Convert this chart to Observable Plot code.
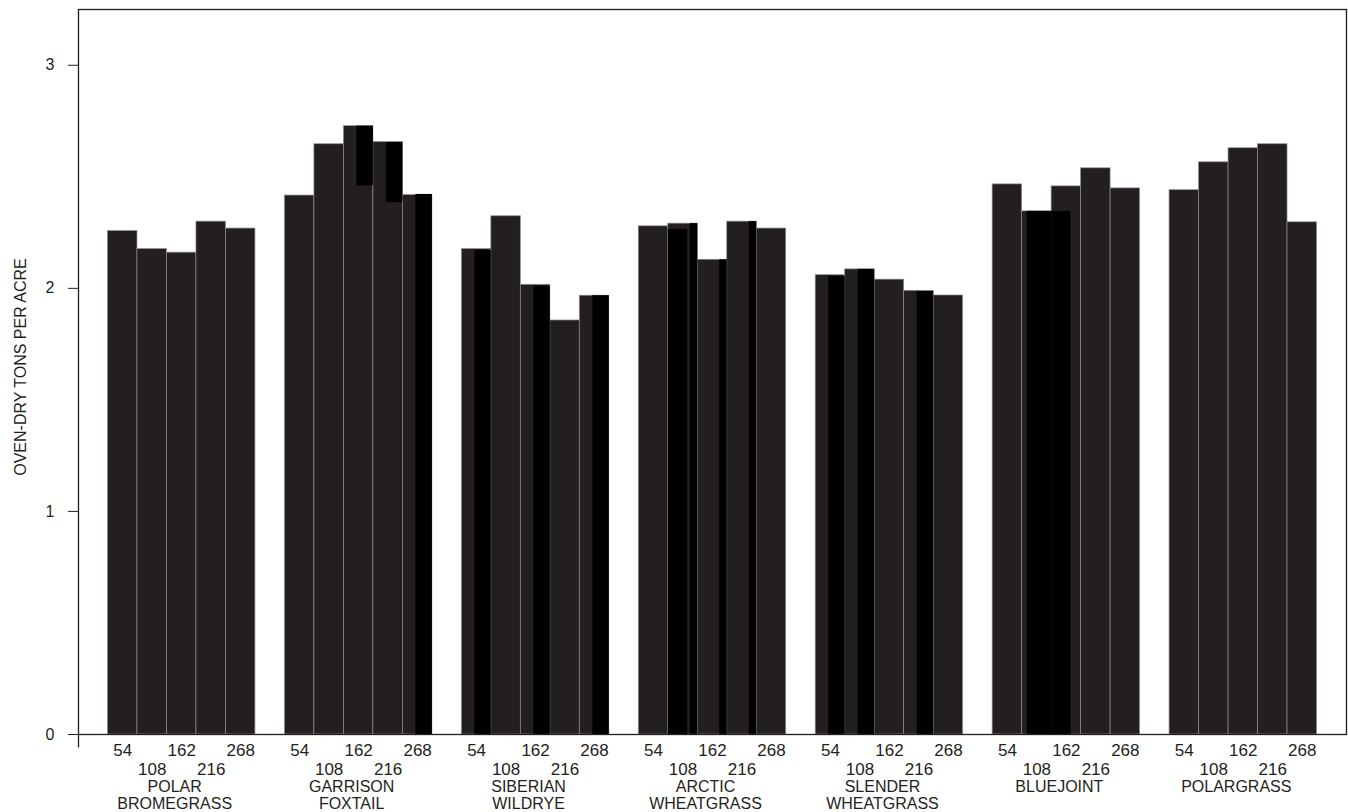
<!DOCTYPE html>
<html>
<head>
<meta charset="utf-8">
<script src="https://cdn.jsdelivr.net/npm/d3@7"></script>
<script src="https://cdn.jsdelivr.net/npm/@observablehq/plot@0.6"></script>
<style>
  html, body { margin: 0; padding: 0; background: #fff; }
  #chart { width: 1348px; height: 812px; }
  svg { font-family: "Liberation Sans", Arial, sans-serif; }
</style>
</head>
<body>
<div id="chart"></div>
<script>
// ---- data ----
const groups = [
  "POLAR BROMEGRASS", "GARRISON FOXTAIL", "SIBERIAN WILDRYE",
  "ARCTIC WHEATGRASS", "SLENDER WHEATGRASS", "BLUEJOINT", "POLARGRASS"
];
const levels = [54, 108, 162, 216, 268];
const yTicks = [0, 1, 2, 3];
const yTitle = "OVEN-DRY TONS PER ACRE";

const polarBromegrass   = [2.257, 2.176, 2.160, 2.299, 2.268];
const garrisonFoxtail   = [2.416, 2.646, 2.727, 2.656, 2.418];
const siberianWildrye   = [2.176, 2.323, 2.016, 1.856, 1.967];
const arcticWheatgrass  = [2.278, 2.290, 2.128, 2.299, 2.268];
const slenderWheatgrass = [2.059, 2.085, 2.039, 1.989, 1.968];
const bluejoint         = [2.466, 2.345, 2.457, 2.538, 2.448];
const polargrass        = [2.440, 2.565, 2.628, 2.646, 2.296];

// darker overlapping pieces visible in the printed figure (group, level, top, bottom)
const overlayRight = [
  ["GARRISON FOXTAIL", 162, 2.727, 2.459],
  ["GARRISON FOXTAIL", 216, 2.653, 2.384],
  ["GARRISON FOXTAIL", 268, 2.421, 0],
  ["SIBERIAN WILDRYE", 54, 2.170, 0],
  ["SIBERIAN WILDRYE", 162, 2.010, 0],
  ["SIBERIAN WILDRYE", 268, 1.967, 0],
  ["SLENDER WHEATGRASS", 54, 2.053, 0],
  ["SLENDER WHEATGRASS", 108, 2.085, 0],
  ["SLENDER WHEATGRASS", 216, 1.985, 0]
];
const overlayEdge = [
  ["ARCTIC WHEATGRASS", 108, 2.290, 0],
  ["ARCTIC WHEATGRASS", 162, 2.128, 0],
  ["ARCTIC WHEATGRASS", 216, 2.299, 0]
];
const overlayLeft = [
  ["ARCTIC WHEATGRASS", 108, 2.264, 0],
  ["BLUEJOINT", 162, 2.345, 0]
];
const overlayFull = [
  ["BLUEJOINT", 108, 2.345, 0]
];

// ---- build tables ----
const yields = [polarBromegrass, garrisonFoxtail, siberianWildrye, arcticWheatgrass,
                slenderWheatgrass, bluejoint, polargrass];
const keyOf = (g, l) => `${g}|${l}`;
const bars = groups.flatMap((g, i) => levels.map((l, j) => ({group: g, level: l, key: keyOf(g, l), value: yields[i][j]})));
const toRows = arr => arr.map(([g, l, top, bottom]) => ({key: keyOf(g, l), top, bottom}));

const domainX = [];
groups.forEach((g, i) => { domainX.push(`gap${i}`); levels.forEach(l => domainX.push(keyOf(g, l))); });
domainX.push(`gap${groups.length}`);

const width = 1348, marginLeft = 78, marginRight = 2;
const slot = (width - marginLeft - marginRight) / domainX.length;

const ink = "#231f20";
const rowA = bars.filter(d => [54, 162, 268].includes(d.level)).map(d => d.key);
const rowB = bars.filter(d => [108, 216].includes(d.level)).map(d => d.key);
const rowC = groups.map(g => keyOf(g, 162));

const chart = Plot.plot({
  width, height: 812,
  marginLeft, marginRight, marginTop: 9, marginBottom: 78,
  style: {color: ink, fontFamily: '"Liberation Sans", Arial, sans-serif', background: "#fff", overflow: "visible"},
  x: {type: "band", domain: domainX, padding: 0, round: false, axis: null},
  y: {domain: [0, 3.25], axis: null},
  marks: [
    Plot.barY(bars, {x: "key", y: "value", fill: ink, stroke: "#8e8e8e", strokeWidth: 0.7}),
    Plot.rectY(toRows(overlayRight), {x: "key", y1: "bottom", y2: "top", fill: "#000", insetLeft: 13}),
    Plot.rectY(toRows(overlayEdge), {x: "key", y1: "bottom", y2: "top", fill: "#000", insetLeft: 22}),
    Plot.rectY(toRows(overlayLeft), {x: "key", y1: "bottom", y2: "top", fill: "#000", insetRight: 10}),
    Plot.rectY(toRows(overlayFull), {x: "key", y1: "bottom", y2: "top", fill: "#000", insetLeft: 5}),
    Plot.frame({stroke: ink, strokeWidth: 1.3}),
    Plot.ruleX(["gap0"], {x: d => d, y1: 0, y2: -0.06, dx: -slot / 2, stroke: ink, strokeWidth: 1.3}),
    Plot.axisY({ticks: yTicks, tickSize: 10, tickPadding: 14, fontSize: 16, label: null, tickFormat: d => String(d)}),
    Plot.axisX({ticks: rowA, tickFormat: k => k.split("|")[1], tickSize: 0, tickPadding: 9, fontSize: 17, label: null}),
    Plot.axisX({ticks: rowB, tickFormat: k => k.split("|")[1], tickSize: 0, tickPadding: 28, fontSize: 17, label: null}),
    Plot.axisX({ticks: rowC, tickFormat: k => k.split("|")[0].replace(" ", "\n"), tickSize: 0, tickPadding: 45, fontSize: 16, lineHeight: 1.06, dx: -7, label: null}),
    Plot.text([yTitle], {frameAnchor: "left", text: d => d, rotate: -90, textAnchor: "middle", dx: -58, dy: -5, fontSize: 16, fill: ink})
  ]
});
document.getElementById("chart").appendChild(chart);
</script>
</body>
</html>
